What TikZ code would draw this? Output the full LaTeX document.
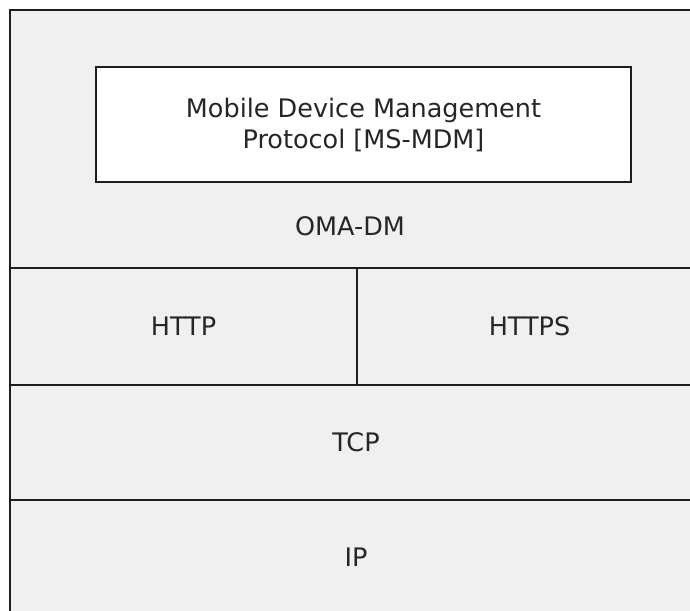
\documentclass[tikz,border=0pt]{standalone}
\usepackage{fontspec}
\setmainfont{DejaVu Sans}
\definecolor{layergray}{HTML}{F0F0F0}
\definecolor{edgegray}{HTML}{1E1E1E}
\begin{document}
\begin{tikzpicture}[
		x=1pt, y=-1pt,
		every node/.style={font=\fontsize{25.5}{31}\selectfont, text=black!85, align=center},
		layer/.style={rectangle, draw=edgegray, line width=2.2pt, fill=layergray, inner sep=0pt},
		inset/.style={rectangle, draw=edgegray, line width=2.2pt, fill=white, minimum width=535pt, minimum height=115pt}
		]
		\useasboundingbox (0,0) rectangle (690,610);
		\clip (0,0) rectangle (690,610);
		\fill[white] (0,0) rectangle (690,610);
		% protocol layers
		\node[layer, minimum width=692pt, minimum height=258pt] (omadm) at (356,139) {};
		\node[layer, minimum width=347pt, minimum height=117pt] (http) at (183.5,326.5) {HTTP};
		\node[layer, minimum width=345pt, minimum height=117pt] (https) at (529.5,326.5) {HTTPS};
		\node[layer, minimum width=692pt, minimum height=115pt] (tcp) at (356,442.5) {TCP};
		\node[layer, minimum width=692pt, minimum height=114pt] (ip) at (356,557) {IP};
		\node (omatext) at (350,226) {OMA-DM};
		\node[inset] (mdm) at (363.5,124.5) {Mobile Device Management\\Protocol [MS-MDM]};
	\end{tikzpicture}
\end{document}
